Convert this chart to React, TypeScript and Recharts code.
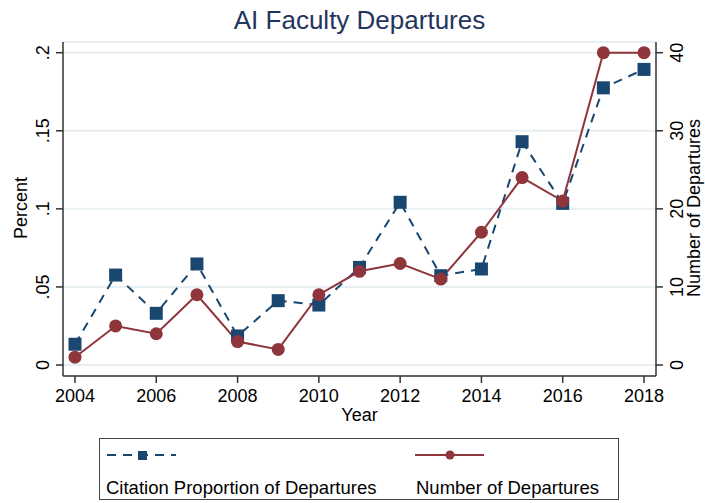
import { LineChart, Line, XAxis, YAxis, CartesianGrid } from 'recharts';

const years = [2004, 2005, 2006, 2007, 2008, 2009, 2010, 2011, 2012, 2013, 2014, 2015, 2016, 2017, 2018];
const citationShare = [0.0133, 0.0576, 0.0331, 0.0647, 0.0186, 0.0412, 0.0384, 0.0625, 0.1042, 0.0572, 0.0615, 0.143, 0.1035, 0.1775, 0.1893];
const departures = [1, 5, 4, 9, 3, 2, 9, 12, 13, 11, 17, 24, 21, 40, 40];

const yearTicks = [2004, 2006, 2008, 2010, 2012, 2014, 2016, 2018];
const pctTicks = [0, 0.05, 0.1, 0.15, 0.2];
const pctLabels = ['0', '.05', '.1', '.15', '.2'];
const countTicks = [0, 10, 20, 30, 40];

const BLUE = '#1a476f';
const RED = '#90353b';
const AXIS = '#333';
const FONT = '"Liberation Sans", Arial, Helvetica, sans-serif';

const data = years.map((year, i) => ({ year, share: citationShare[i], count: departures[i] }));

const SquareDot = (props: any) => {
  const { cx, cy, index } = props;
  if (cx == null || cy == null) return null;
  return <rect key={`sq-${index}`} x={cx - 6.5} y={cy - 6.5} width={13} height={13} fill={BLUE} />;
};

const CircleDot = (props: any) => {
  const { cx, cy, index } = props;
  if (cx == null || cy == null) return null;
  return <circle key={`ci-${index}`} cx={cx} cy={cy} r={6.5} fill={RED} />;
};

const YearTick = ({ x, payload }: any) => (
  <text x={x} y={402} textAnchor="middle" fontSize={18} fontFamily={FONT} fill="#000">
    {payload.value}
  </text>
);

const PctTick = ({ y, payload }: any) => {
  const label = pctLabels[pctTicks.indexOf(payload.value)] ?? String(payload.value);
  return (
    <text x={49.5} y={y} transform={`rotate(-90, 49.5, ${y})`} textAnchor="middle" fontSize={18} fontFamily={FONT} fill="#000">
      {label}
    </text>
  );
};

const CountTick = ({ y, payload }: any) => (
  <text x={683.5} y={y} transform={`rotate(-90, 683.5, ${y})`} textAnchor="middle" fontSize={18} fontFamily={FONT} fill="#000">
    {payload.value}
  </text>
);

export default function App() {
  return (
    <div style={{ position: 'absolute', left: 0, top: 0, width: 705, height: 503, background: '#fff', fontFamily: FONT }}>
      <div style={{ position: 'absolute', left: 0, top: 5, width: 719, textAlign: 'center', fontSize: 26, color: '#1f355d' }}>
        AI Faculty Departures
      </div>
      <div style={{ position: 'absolute', left: 0, top: 0 }}>
        <LineChart width={705} height={430} data={data} margin={{ top: 42, right: 0, bottom: 0, left: 0 }}>
          <CartesianGrid horizontal vertical={false} stroke="#e8eff2" strokeWidth={2} yAxisId="pct" />
          <XAxis
            dataKey="year"
            type="number"
            domain={[2003.705, 2018.295]}
            ticks={yearTicks}
            allowDataOverflow
            height={54}
            tick={<YearTick />}
            tickSize={7}
            stroke={AXIS}
            axisLine={{ stroke: AXIS, strokeWidth: 1.5 }}
            tickLine={{ stroke: AXIS, strokeWidth: 1.5 }}
            label={{ content: () => <text x={359.5} y={421} textAnchor="middle" fontSize={18} fontFamily={FONT} fill="#000">Year</text> }}
          />
          <YAxis
            yAxisId="pct"
            orientation="left"
            width={63}
            domain={[-0.00704, 0.20685]}
            ticks={pctTicks}
            allowDataOverflow
            tick={<PctTick />}
            tickSize={7}
            axisLine={{ stroke: AXIS, strokeWidth: 1.5 }}
            tickLine={{ stroke: AXIS, strokeWidth: 1.5 }}
            label={{ content: () => <text x={27} y={208} transform="rotate(-90, 27, 208)" textAnchor="middle" fontSize={18} fontFamily={FONT} fill="#000">Percent</text> }}
          />
          <YAxis
            yAxisId="count"
            orientation="right"
            width={49}
            domain={[-1.408, 41.37]}
            ticks={countTicks}
            allowDataOverflow
            tick={<CountTick />}
            tickSize={7}
            axisLine={{ stroke: AXIS, strokeWidth: 1.5 }}
            tickLine={{ stroke: AXIS, strokeWidth: 1.5 }}
            label={{ content: () => <text x={700} y={208} transform="rotate(-90, 700, 208)" textAnchor="middle" fontSize={18} fontFamily={FONT} fill="#000">Number of Departures</text> }}
          />
          <Line
            yAxisId="pct"
            type="linear"
            dataKey="share"
            stroke={BLUE}
            strokeWidth={2}
            strokeDasharray="9 7"
            dot={SquareDot}
            activeDot={false}
            isAnimationActive={false}
          />
          <Line
            yAxisId="count"
            type="linear"
            dataKey="count"
            stroke={RED}
            strokeWidth={2}
            dot={CircleDot}
            activeDot={false}
            isAnimationActive={false}
          />
        </LineChart>
      </div>
      <div style={{ position: 'absolute', left: 99, top: 438, width: 520, height: 62, border: '1.5px solid #444', boxSizing: 'border-box' }}>
        <svg width={520} height={30} style={{ position: 'absolute', left: 0, top: 0 }}>
          <line x1={7} y1={16} x2={76} y2={16} stroke={BLUE} strokeWidth={2} strokeDasharray="9 7" />
          <rect x={38} y={12} width={9} height={9} fill={BLUE} />
          <line x1={315} y1={16} x2={384} y2={16} stroke={RED} strokeWidth={2} />
          <circle cx={350} cy={16} r={4.5} fill={RED} />
        </svg>
        <div style={{ position: 'absolute', left: 6, top: 38, fontSize: 18.5, color: '#000', whiteSpace: 'nowrap' }}>
          Citation Proportion of Departures
        </div>
        <div style={{ position: 'absolute', left: 316, top: 38, fontSize: 18.5, color: '#000', whiteSpace: 'nowrap' }}>
          Number of Departures
        </div>
      </div>
    </div>
  );
}
